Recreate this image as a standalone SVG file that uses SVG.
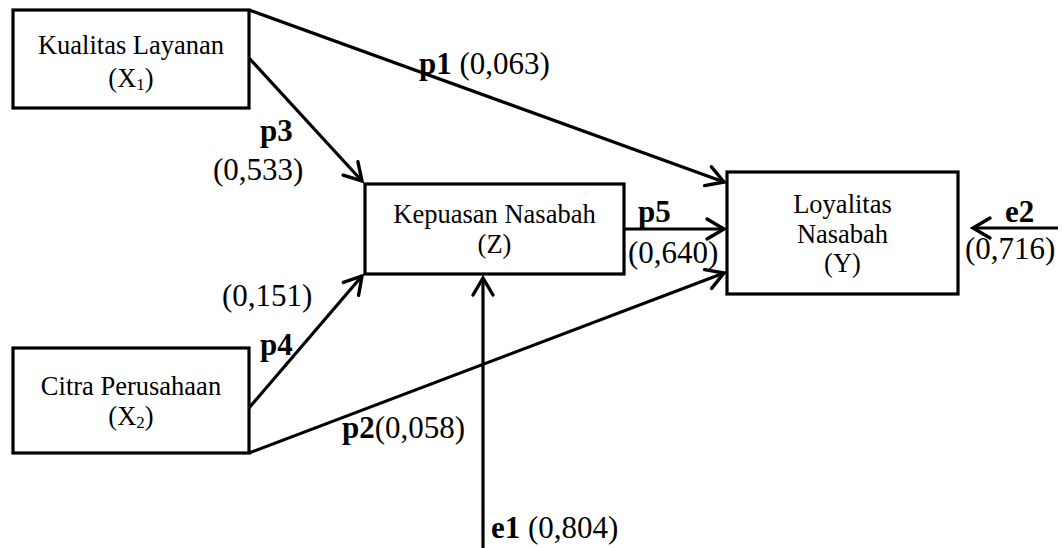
<svg xmlns="http://www.w3.org/2000/svg" width="1063" height="548" viewBox="0 0 1063 548">
  <style>
    .box { fill: #ffffff; stroke: #000000; stroke-width: 3.2; }
    .edge { fill: none; stroke: #000000; stroke-width: 3.2; marker-end: url(#head); }
    .node-text { font-family: "Liberation Serif", "Times New Roman", serif; font-size: 26.5px; fill: #000000; text-anchor: middle; }
    .lbl { font-family: "Liberation Serif", "Times New Roman", serif; font-size: 31px; fill: #000000; }
    .b { font-weight: bold; }
    .sub { font-size: 17px; }
  </style>
  <defs>
    <marker id="head" markerUnits="userSpaceOnUse" markerWidth="30" markerHeight="30" viewBox="-20 -15 30 30" refX="0" refY="0" orient="auto">
      <path d="M -17 -10 L 0 0 L -17 10" fill="none" stroke="#000000" stroke-width="3.4" stroke-linejoin="miter" stroke-linecap="round"/>
    </marker>
  </defs>

  <!-- connectors -->
  <g id="connectors">
    <line id="p1" class="edge" x1="249" y1="10" x2="724" y2="182"/>
    <line id="p3" class="edge" x1="249" y1="58" x2="362" y2="181"/>
    <line id="p4" class="edge" x1="249" y1="408" x2="362" y2="276"/>
    <line id="p2" class="edge" x1="249" y1="453" x2="724" y2="273"/>
    <line id="p5" class="edge" x1="624" y1="229" x2="724" y2="229"/>
    <line id="e1" class="edge" x1="483" y1="548" x2="483" y2="278"/>
    <line id="e2" class="edge" x1="1058" y1="228" x2="973" y2="228"/>
  </g>

  <!-- nodes -->
  <g id="node-x1">
    <rect class="box" x="13" y="10" width="236" height="98"/>
    <text class="node-text" x="131" y="54">Kualitas Layanan</text>
    <text class="node-text" x="131" y="87">(X<tspan class="sub" dy="3">1</tspan><tspan dy="-3">)</tspan></text>
  </g>
  <g id="node-x2">
    <rect class="box" x="13" y="348" width="236" height="105"/>
    <text class="node-text" x="131" y="395">Citra Perusahaan</text>
    <text class="node-text" x="131" y="425">(X<tspan class="sub" dy="3">2</tspan><tspan dy="-3">)</tspan></text>
  </g>
  <g id="node-z">
    <rect class="box" x="365" y="184" width="259" height="90"/>
    <text class="node-text" x="494.5" y="223">Kepuasan Nasabah</text>
    <text class="node-text" x="494.5" y="253">(Z)</text>
  </g>
  <g id="node-y">
    <rect class="box" x="727" y="172" width="231" height="122"/>
    <text class="node-text" x="842.5" y="213">Loyalitas</text>
    <text class="node-text" x="842.5" y="243">Nasabah</text>
    <text class="node-text" x="842.5" y="272">(Y)</text>
  </g>

  <!-- path coefficients -->
  <g id="labels">
    <text class="lbl" x="419" y="74"><tspan class="b">p1</tspan> (0,063)</text>
    <text class="lbl b" x="260" y="141">p3</text>
    <text class="lbl" x="213" y="180">(0,533)</text>
    <text class="lbl" x="222" y="306">(0,151)</text>
    <text class="lbl b" x="260" y="355">p4</text>
    <text class="lbl" x="342" y="438"><tspan class="b">p2</tspan>(0,058)</text>
    <text class="lbl b" x="638" y="222">p5</text>
    <text class="lbl" x="628" y="263">(0,640)</text>
    <text class="lbl b" x="1005" y="222">e2</text>
    <text class="lbl" x="965" y="259">(0,716)</text>
    <text class="lbl" x="491" y="538"><tspan class="b">e1</tspan> (0,804)</text>
  </g>
</svg>
